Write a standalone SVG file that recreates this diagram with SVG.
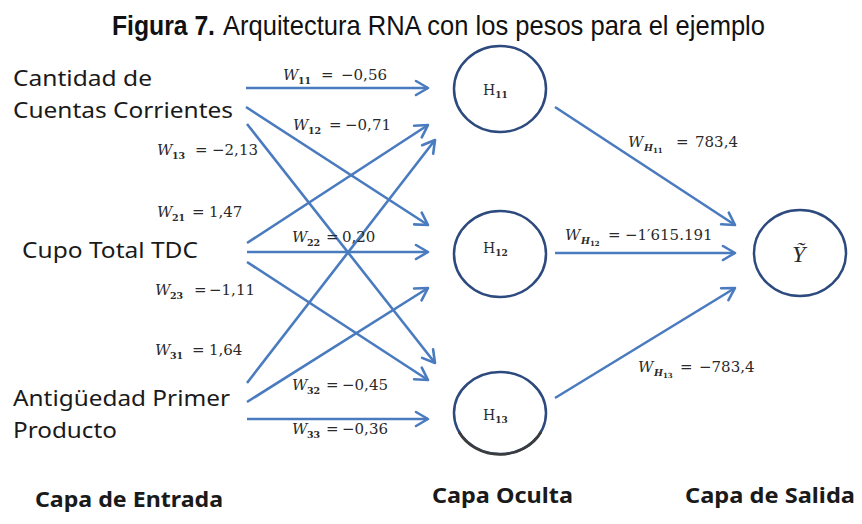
<svg xmlns="http://www.w3.org/2000/svg" width="862" height="524" viewBox="0 0 862 524">
<defs>
<style>
.bg{fill:#ffffff}
.title{font-family:"Liberation Sans Narrow","Liberation Sans",Arial,sans-serif;font-size:28px;fill:#111}
.in{font-family:"Noto Sans","Open Sans",sans-serif;font-size:22px;fill:#1a1a1a}
.layer{font-family:"Noto Sans","Open Sans",sans-serif;font-size:21px;font-weight:bold;fill:#1a1a1a}
.node{fill:#ffffff;stroke:#2d4a7e;stroke-width:2.5}
.edge{stroke:#4a7bbf;stroke-width:2.6;fill:none;marker-end:url(#arr)}
.w{font-family:"DejaVu Serif","Liberation Serif",serif;font-size:15px;fill:#2a2a2a}
.wi{font-style:italic}
.sub{font-size:9.5px;font-weight:bold}
.subsub{font-size:7px;font-weight:bold}
.hl{font-family:"DejaVu Serif","Liberation Serif",serif;font-size:14px;fill:#2a2a2a}
.hs{font-size:9px;font-weight:bold}
.yl{font-family:"Liberation Serif","DejaVu Serif",serif;font-size:24px;font-style:italic;fill:#2a2a2a}
</style>
<marker id="arr" markerUnits="userSpaceOnUse" markerWidth="18" markerHeight="18" viewBox="0 0 18 18" refX="15" refY="9" orient="auto">
<path d="M3,2 L15,9 L3,16" fill="none" stroke="#4a7bbf" stroke-width="2.6" stroke-linecap="round" stroke-linejoin="round"/>
</marker>
</defs>
<rect class="bg" x="0" y="0" width="862" height="524"/>

<text class="title" x="112" y="35" textLength="103" lengthAdjust="spacingAndGlyphs" font-weight="bold">Figura 7.</text>
<text class="title" x="223" y="35" textLength="542" lengthAdjust="spacingAndGlyphs">Arquitectura RNA con los pesos para el ejemplo</text>

<g id="connectors">
<line class="edge" x1="246" y1="88" x2="428" y2="88"/>
<line class="edge" x1="246" y1="107" x2="428" y2="225"/>
<line class="edge" x1="247" y1="124" x2="435" y2="363"/>
<line class="edge" x1="247" y1="243" x2="428" y2="125"/>
<line class="edge" x1="247" y1="252" x2="428" y2="252"/>
<line class="edge" x1="247" y1="262" x2="428" y2="380"/>
<line class="edge" x1="247" y1="383" x2="435" y2="140"/>
<line class="edge" x1="247" y1="402" x2="428" y2="288"/>
<line class="edge" x1="247" y1="419" x2="428" y2="419"/>
<line class="edge" x1="555" y1="107" x2="735" y2="225"/>
<line class="edge" x1="555" y1="253" x2="735" y2="253"/>
<line class="edge" x1="555" y1="398" x2="735" y2="288"/>
</g>

<g id="weights">
<text class="w" y="80"><tspan x="283" class="wi">W</tspan><tspan x="298" dy="4" class="sub">11</tspan><tspan x="321" dy="-4">=</tspan><tspan x="341">−0,56</tspan></text>
<text class="w" y="130"><tspan x="293" class="wi">W</tspan><tspan x="308" dy="4" class="sub">12</tspan><tspan x="329" dy="-4">=</tspan><tspan x="345">−0,71</tspan></text>
<text class="w" y="155"><tspan x="157" class="wi">W</tspan><tspan x="172" dy="4" class="sub">13</tspan><tspan x="195" dy="-4">=</tspan><tspan x="212">−2,13</tspan></text>
<text class="w" y="217"><tspan x="157" class="wi">W</tspan><tspan x="172" dy="4" class="sub">21</tspan><tspan x="192" dy="-4">=</tspan><tspan x="209">1,47</tspan></text>
<text class="w" y="242"><tspan x="292" class="wi">W</tspan><tspan x="307" dy="4" class="sub">22</tspan><tspan x="326" dy="-4">=</tspan><tspan x="342">0,20</tspan></text>
<text class="w" y="295"><tspan x="155" class="wi">W</tspan><tspan x="170" dy="4" class="sub">23</tspan><tspan x="194" dy="-4">=</tspan><tspan x="209">−1,11</tspan></text>
<text class="w" y="355"><tspan x="155" class="wi">W</tspan><tspan x="170" dy="4" class="sub">31</tspan><tspan x="192" dy="-4">=</tspan><tspan x="209">1,64</tspan></text>
<text class="w" y="390"><tspan x="292" class="wi">W</tspan><tspan x="307" dy="4" class="sub">32</tspan><tspan x="326" dy="-4">=</tspan><tspan x="342">−0,45</tspan></text>
<text class="w" y="434"><tspan x="292" class="wi">W</tspan><tspan x="307" dy="4" class="sub">33</tspan><tspan x="326" dy="-4">=</tspan><tspan x="342">−0,36</tspan></text>
<text class="w" y="147"><tspan x="628" class="wi">W</tspan><tspan x="644" dy="4" class="sub wi">H</tspan><tspan x="653" dy="2" class="subsub">11</tspan><tspan x="676" dy="-6">=</tspan><tspan x="695">783,4</tspan></text>
<text class="w" y="240"><tspan x="565" class="wi">W</tspan><tspan x="581" dy="4" class="sub wi">H</tspan><tspan x="590" dy="2" class="subsub">12</tspan><tspan x="608" dy="-6">=</tspan><tspan x="625">−1′615.191</tspan></text>
<text class="w" y="372"><tspan x="638" class="wi">W</tspan><tspan x="654" dy="4" class="sub wi">H</tspan><tspan x="663" dy="2" class="subsub">13</tspan><tspan x="680" dy="-6">=</tspan><tspan x="699">−783,4</tspan></text>
</g>

<g id="in1"><text class="in" x="13" y="86" textLength="139" lengthAdjust="spacingAndGlyphs">Cantidad de</text><text class="in" x="13" y="118" textLength="220" lengthAdjust="spacingAndGlyphs">Cuentas Corrientes</text></g>
<g id="in2"><text class="in" x="22" y="258" textLength="176" lengthAdjust="spacingAndGlyphs">Cupo Total TDC</text></g>
<g id="in3"><text class="in" x="13" y="406" textLength="217" lengthAdjust="spacingAndGlyphs">Antigüedad Primer</text><text class="in" x="13" y="438" textLength="104" lengthAdjust="spacingAndGlyphs">Producto</text></g>

<g id="h11"><ellipse class="node" cx="500" cy="89" rx="46" ry="43"/><text class="hl" x="483" y="95">H<tspan class="hs" dy="3">11</tspan></text></g>
<g id="h12"><ellipse class="node" cx="500" cy="254" rx="46" ry="43"/><text class="hl" x="483" y="253">H<tspan class="hs" dy="3">12</tspan></text></g>
<g id="h13"><ellipse class="node" cx="500" cy="413" rx="46" ry="41"/><path d="M541,432 A46,41 0 0 1 459,432" fill="none" stroke="#3c3c3c" stroke-width="2.6"/><text class="hl" x="483" y="420">H<tspan class="hs" dy="3">13</tspan></text></g>
<g id="y"><ellipse class="node" cx="800" cy="253" rx="46" ry="43"/><text class="yl" x="792" y="262">Ỹ</text></g>

<g id="layers">
<text class="layer" x="35" y="507" textLength="188" lengthAdjust="spacingAndGlyphs">Capa de Entrada</text>
<text class="layer" x="432" y="503" textLength="141" lengthAdjust="spacingAndGlyphs">Capa Oculta</text>
<text class="layer" x="685" y="503" textLength="170" lengthAdjust="spacingAndGlyphs">Capa de Salida</text>
</g>
</svg>
